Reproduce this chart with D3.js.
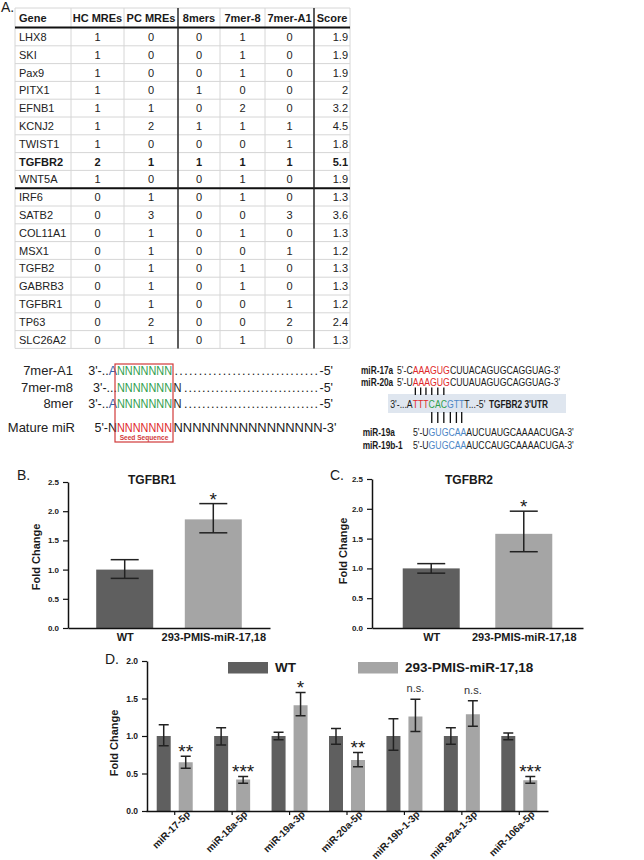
<!DOCTYPE html>
<html><head><meta charset="utf-8">
<script src="https://cdn.jsdelivr.net/npm/d3@7"></script>
<style>
body{margin:0;background:#fff}
svg{display:block}
text{font-family:"Liberation Sans",Arial,Helvetica,sans-serif}
</style>
</head><body>
<svg id="c" width="644" height="860"></svg>
<script>
// ---------------- DATA ----------------
// Panel A table
const tableHeaders = ["Gene","HC MREs","PC MREs","8mers","7mer-8","7mer-A1","Score"];
const genes   = ["LHX8","SKI","Pax9","PITX1","EFNB1","KCNJ2","TWIST1","TGFBR2","WNT5A","IRF6","SATB2","COL11A1","MSX1","TGFB2","GABRB3","TGFBR1","TP63","SLC26A2"];
const hcMREs  = [1,1,1,1,1,1,1,2,1,0,0,0,0,0,0,0,0,0];
const pcMREs  = [0,0,0,0,1,2,0,1,0,1,3,1,1,1,1,1,2,1];
const mers8   = [0,0,0,1,0,1,0,1,0,0,0,0,0,0,0,0,0,0];
const mer7m8  = [1,1,1,0,2,1,0,1,1,1,0,1,0,1,1,0,0,1];
const mer7A1  = [0,0,0,0,0,1,1,1,0,0,3,0,1,0,0,1,2,0];
const scores  = ["1.9","1.9","1.9","2","3.2","4.5","1.8","5.1","1.9","1.3","3.6","1.3","1.2","1.3","1.3","1.2","2.4","1.3"];
const boldGene = "TGFBR2";
const groupBreakAfter = "WNT5A";

// Panels B and C
const barCategories = ["WT","293-PMIS-miR-17,18"];
const tgfbr1Mean = [1.00, 1.86];
const tgfbr1Low  = [0.85, 1.63];
const tgfbr1High = [1.17, 2.13];
const tgfbr1Sig  = ["", "*"];
const tgfbr2Mean = [1.00, 1.58];
const tgfbr2Low  = [0.92, 1.28];
const tgfbr2High = [1.08, 1.96];
const tgfbr2Sig  = ["", "*"];
const bcTicks = [0, 0.5, 1.0, 1.5, 2.0, 2.5];

// Panel D
const mirnas = ["miR-17-5p","miR-18a-5p","miR-19a-3p","miR-20a-5p","miR-19b-1-3p","miR-92a-1-3p","miR-106a-5p"];
const seriesNames = ["WT","293-PMIS-miR-17,18"];
const wtMean   = [1.00,1.00,1.00,1.00,1.00,1.00,1.00];
const wtLow    = [0.87,0.88,0.95,0.89,0.81,0.89,0.95];
const wtHigh   = [1.15,1.11,1.05,1.10,1.23,1.11,1.04];
const pmisMean = [0.65,0.42,1.41,0.68,1.26,1.29,0.41];
const pmisLow  = [0.57,0.37,1.27,0.59,1.06,1.13,0.37];
const pmisHigh = [0.73,0.46,1.58,0.78,1.49,1.47,0.46];
const pmisSig  = ["**","***","*","**","n.s.","n.s.","***"];
const dTicks = [0, 0.5, 1.0, 1.5, 2.0];

// ---------------- STYLE ----------------
const seriesColors = ["#5f5f5f", "#a5a5a5"];
const RED = "#e0282a", GREEN = "#2f9e4c", BLUE = "#3463ad", LBLUE = "#4d86c6", INK = "#1a1a1a";

const svg = d3.select("#c");

// ---------------- PANEL A: TABLE ----------------
svg.append("text").attr("x",1).attr("y",12).style("font-size","14px").attr("fill",INK).text("A.");

const colEdges = [15, 71, 124, 178, 220, 265, 314, 350];
const columns = [genes, hcMREs, pcMREs, mers8, mer7m8, mer7A1, scores];
const headTop = 8, headBot = 27.5;
const tY = d3.scaleBand().domain(genes).range([28, 348.4]);
const tBot = tY.range()[1];
const tg = svg.append("g");
const grid = "#d6d6d6";
const tFs = "11px";
tg.append("line").attr("x1",colEdges[0]).attr("x2",colEdges[7]).attr("y1",headTop).attr("y2",headTop).attr("stroke",grid);
genes.forEach(g=>{
  const yb = tY(g)+tY.bandwidth();
  tg.append("line").attr("x1",colEdges[0]).attr("x2",colEdges[7]).attr("y1",yb).attr("y2",yb).attr("stroke",grid);
});
colEdges.forEach(x=>{
  tg.append("line").attr("x1",x).attr("x2",x).attr("y1",headTop).attr("y2",tBot).attr("stroke",grid);
});
tg.append("line").attr("x1",colEdges[0]).attr("x2",colEdges[7]).attr("y1",headBot).attr("y2",headBot).attr("stroke","#111").attr("stroke-width",2);
const yBreak = tY(groupBreakAfter)+tY.bandwidth();
tg.append("line").attr("x1",colEdges[0]).attr("x2",colEdges[7]).attr("y1",yBreak).attr("y2",yBreak).attr("stroke","#111").attr("stroke-width",2);
[colEdges[3], colEdges[6]].forEach(x=>{
  tg.append("line").attr("x1",x).attr("x2",x).attr("y1",headTop).attr("y2",tBot).attr("stroke","#222").attr("stroke-width",1.4);
});
tableHeaders.forEach((h,ci)=>{
  const t = tg.append("text").attr("y",22).style("font-size",tFs).style("font-weight","bold").attr("fill",INK).text(h);
  if(ci===0) t.attr("x",colEdges[0]+4);
  else t.attr("x",(colEdges[ci]+colEdges[ci+1])/2).attr("text-anchor","middle");
});
genes.forEach((g,ri)=>{
  const yc = tY(g)+tY.bandwidth()/2+4;
  columns.forEach((col,ci)=>{
    const t = tg.append("text").attr("y",yc).style("font-size",tFs).attr("fill","#222").text(col[ri]);
    if(g===boldGene) t.style("font-weight","bold").attr("fill",INK);
    if(ci===0) t.attr("x",colEdges[0]+4);
    else if(ci===6) t.attr("x",colEdges[7]-2).attr("text-anchor","end");
    else t.attr("x",(colEdges[ci]+colEdges[ci+1])/2).attr("text-anchor","middle");
  });
});

// ---------------- SEQUENCE DIAGRAMS ----------------
function segs(parent, x, y, list, size, weight, gapPx){
  let cx = x; const parts=[]; const gp = gapPx||0;
  list.forEach((s,i)=>{
    if(i>0) cx += gp;
    const t = parent.append("text").attr("x",cx).attr("y",y).attr("fill",s.c||INK)
      .style("font-size",size+"px").style("font-weight",weight||"normal").text(s.t);
    if(s.len){ t.attr("textLength",s.len).attr("lengthAdjust",s.adj||"spacingAndGlyphs"); }
    const w = s.len || t.node().getComputedTextLength();
    parts.push({node:t.node(), x:cx, w});
    cx += w;
  });
  return {end:cx, parts};
}
const sg = svg.append("g");
const seedX = 117, seedW = 55, seqFs = 12.5;
const leftRows = [
  {label:"7mer-A1", y:375, pre:[["3'-..",INK],["A",BLUE]], seedC:GREEN, post:"", tail:"-5'", end:333},
  {label:"7mer-m8", y:392, pre:[["3'-...",INK]], seedC:GREEN, post:"N", tail:"-5'", end:333},
  {label:"8mer",    y:408, pre:[["3'-..",INK],["A",BLUE]], seedC:GREEN, post:"N", tail:"-5'", end:333},
];
leftRows.forEach(r=>{
  sg.append("text").attr("x",73).attr("y",r.y).attr("text-anchor","end").style("font-size","13px").attr("fill","#222").text(r.label);
  const pre = sg.append("text").attr("x",seedX).attr("y",r.y).attr("text-anchor","end").style("font-size",seqFs+"px");
  r.pre.forEach(p=>pre.append("tspan").attr("fill",p[1]).text(p[0]));
  const s = segs(sg, seedX, r.y, [{t:"NNNNNNN", c:r.seedC, len:seedW}].concat(r.post?[{t:r.post,c:INK,len:8}]:[]), seqFs, "normal", 1.5);
  const tailT = sg.append("text").attr("x",r.end).attr("y",r.y).attr("text-anchor","end").style("font-size",seqFs+"px").attr("fill",INK).text(r.tail);
  const tw = tailT.node().getComputedTextLength();
  const gap = r.end - tw - s.end - 4;
  sg.append("text").attr("x",s.end+2.5).attr("y",r.y).style("font-size",seqFs+"px").attr("fill",INK)
    .attr("textLength",gap).attr("lengthAdjust","spacing").text(".".repeat(30));
});
sg.append("text").attr("x",75).attr("y",432).attr("text-anchor","end").style("font-size","13px").attr("fill","#222").text("Mature miR");
sg.append("text").attr("x",seedX).attr("y",432).attr("text-anchor","end").style("font-size",seqFs+"px").attr("fill",INK).text("5'-N");
segs(sg, seedX, 432, [{t:"NNNNNNN",c:RED,len:seedW},{t:"NNNNNNNNNNNNNNNN-3'",c:INK,len:163}], seqFs, "normal", 1.5);
sg.append("rect").attr("x",seedX-2).attr("y",364).attr("width",seedW+3).attr("height",78).attr("fill","none").attr("stroke","#d13a3a").attr("stroke-width",1.2);
sg.append("text").attr("x",seedX+seedW/2-0.5).attr("y",440).attr("text-anchor","middle").style("font-size","6.6px").style("font-weight","bold").attr("fill","#d13a3a").text("Seed Sequence");

// right side (drawn at natural size, then condensed horizontally)
const ox = 360, sx = 0.83;
const rs = svg.append("g").attr("transform",`translate(${ox},0) scale(${sx},1) translate(${-ox},0)`);
const L = v => ox + (v-ox)/sx;   // real x -> local x
const labX = L(361), seqX = L(397), rFs = 10.5, labFs = "10px";
rs.append("rect").attr("x",L(388)).attr("y",394).attr("width",(566-388)/sx).attr("height",19).attr("fill","#dfe6ef");
rs.append("text").attr("x",labX).attr("y",374).style("font-size",labFs).style("font-weight","bold").attr("fill",INK).text("miR-17a");
const r17 = segs(rs, seqX, 374, [{t:"5'-C"},{t:"AAAGUG",c:RED},{t:"CUUACAGUGCAGGUAG-3'"}], rFs);
rs.append("text").attr("x",labX).attr("y",386).style("font-size",labFs).style("font-weight","bold").attr("fill",INK).text("miR-20a");
segs(rs, seqX, 386, [{t:"5'-U"},{t:"AAAGUG",c:RED},{t:"CUUAUAGUGCAGGUAG-3'"}], rFs);
const redStart = r17.parts[1].x;
rs.append("text").attr("x",redStart).attr("y",408.5).attr("text-anchor","end").style("font-size",rFs+"px").attr("fill",INK).text("3'-...A");
const utr = segs(rs, redStart, 408.5, [{t:"TTT",c:RED},{t:"CAC",c:GREEN},{t:"GTT",c:LBLUE},{t:"T...-5'"}], rFs);
rs.append("text").attr("x",L(489)).attr("y",408).style("font-size","10px").style("font-weight","bold").attr("fill",INK).text("TGFBR2 3'UTR");
function charCenters(node,n){ const a=[]; for(let i=0;i<n;i++){a.push((node.getStartPositionOfChar(i).x+node.getEndPositionOfChar(i).x)/2);} return a; }
const upperX = charCenters(utr.parts[0].node,3).concat(charCenters(utr.parts[1].node,3));
upperX.forEach(x=>rs.append("line").attr("x1",x).attr("x2",x).attr("y1",387.5).attr("y2",395).attr("stroke","#111").attr("stroke-width",1.6));
const lowerX = charCenters(utr.parts[1].node,3).concat(charCenters(utr.parts[2].node,3));
lowerX.forEach(x=>rs.append("line").attr("x1",x).attr("x2",x).attr("y1",412).attr("y2",423).attr("stroke","#111").attr("stroke-width",1.6));
const greenStart = utr.parts[1].x;
function seq19(label, y, rest){
  rs.append("text").attr("x",labX+2).attr("y",y).style("font-size",labFs).style("font-weight","bold").attr("fill",INK).text(label);
  rs.append("text").attr("x",greenStart).attr("y",y).attr("text-anchor","end").style("font-size",rFs+"px").attr("fill",INK).text("5'-U");
  segs(rs, greenStart, y, [{t:"GUGCAA",c:LBLUE},{t:rest}], rFs);
}
seq19("miR-19a", 436, "AUCUAUGCAAAACUGA-3'");
seq19("miR-19b-1", 449, "AUCCAUGCAAAACUGA-3'");

// ---------------- PANELS B & C ----------------
function simpleBar(cfg){
  const g = svg.append("g");
  const y = d3.scaleLinear().domain([0,2.5]).range([cfg.y0, cfg.y1]);
  const x = d3.scalePoint().domain(barCategories).range([cfg.ax, cfg.axEnd]).padding(0.64);
  const bw = 57;
  g.append("text").attr("x",cfg.px).attr("y",480).style("font-size","14px").attr("fill",INK).text(cfg.panel);
  g.append("text").attr("x",cfg.titleX).attr("y",484).attr("text-anchor","middle").style("font-size","12px").style("font-weight","bold").attr("fill",INK).text(cfg.title);
  barCategories.forEach((c,i)=>{
    g.append("rect").attr("x",x(c)-bw/2).attr("width",bw).attr("y",y(cfg.mean[i])).attr("height",y(0)-y(cfg.mean[i])).attr("fill",seriesColors[i]);
    const cx = x(c), cw = 14;
    g.append("line").attr("x1",cx).attr("x2",cx).attr("y1",y(cfg.low[i])).attr("y2",y(cfg.high[i])).attr("stroke","#222").attr("stroke-width",1.5);
    [cfg.low[i],cfg.high[i]].forEach(v=>g.append("line").attr("x1",cx-cw).attr("x2",cx+cw).attr("y1",y(v)).attr("y2",y(v)).attr("stroke","#222").attr("stroke-width",1.5));
    if(cfg.sig[i]) g.append("text").attr("x",cx).attr("y",y(cfg.high[i])+2).attr("text-anchor","middle").style("font-size","19px").attr("fill",INK).text(cfg.sig[i]);
  });
  const ya = g.append("g").attr("transform",`translate(${cfg.ax},0)`).call(d3.axisLeft(y).tickValues(bcTicks).tickFormat(d3.format(".1f")).tickSize(5).tickPadding(4).tickSizeOuter(0));
  const xa = g.append("g").attr("transform",`translate(0,${cfg.y0})`).call(d3.axisBottom(x).tickSize(0).tickSizeOuter(0).tickPadding(5));
  [ya,xa].forEach(a=>{a.select(".domain").attr("stroke","#111").attr("stroke-width",1.5); a.selectAll(".tick line").attr("stroke","#111").attr("stroke-width",1.2);});
  ya.selectAll("text").style("font-size","8px").style("font-weight","bold").attr("fill",INK).style("font-family","Liberation Sans, Arial, sans-serif");
  xa.selectAll("text").style("font-size","11px").style("font-weight","bold").attr("fill",INK).style("font-family","Liberation Sans, Arial, sans-serif");
  g.append("text").attr("transform",`translate(${cfg.flX},${cfg.flY}) rotate(-90)`).attr("text-anchor","middle").style("font-size","11px").style("font-weight","bold").attr("fill",INK).text("Fold Change");
}
simpleBar({panel:"B.", px:17, title:"TGFBR1", titleX:152, ax:68, axEnd:270, y0:628, y1:482, mean:tgfbr1Mean, low:tgfbr1Low, high:tgfbr1High, sig:tgfbr1Sig, flX:40, flY:557});
simpleBar({panel:"C.", px:330, title:"TGFBR2", titleX:469, ax:372, axEnd:583, y0:628, y1:479, mean:tgfbr2Mean, low:tgfbr2Low, high:tgfbr2High, sig:tgfbr2Sig, flX:347, flY:551});

// ---------------- PANEL D ----------------
const dg = svg.append("g");
dg.append("text").attr("x",105).attr("y",664).style("font-size","14px").attr("fill",INK).text("D.");
const dY = d3.scaleLinear().domain([0,2]).range([811,661]);
const dX0 = d3.scaleBand().domain(mirnas).range([146,548]);
const half = dX0.bandwidth()/2;
const dX1 = d3.scaleBand().domain(seriesNames).range([half-18, half+18]).paddingInner(0.364);
const seriesData = [
  {mean:wtMean, low:wtLow, high:wtHigh, sig:null},
  {mean:pmisMean, low:pmisLow, high:pmisHigh, sig:pmisSig}
];
mirnas.forEach((m,i)=>{
  seriesNames.forEach((s,si)=>{
    const d = seriesData[si];
    const x = dX0(m)+dX1(s), w = dX1.bandwidth(), cx = x+w/2;
    dg.append("rect").attr("x",x).attr("width",w).attr("y",dY(d.mean[i])).attr("height",dY(0)-dY(d.mean[i])).attr("fill",seriesColors[si]);
    dg.append("line").attr("x1",cx).attr("x2",cx).attr("y1",dY(d.low[i])).attr("y2",dY(d.high[i])).attr("stroke","#222").attr("stroke-width",1.5);
    [d.low[i],d.high[i]].forEach(v=>dg.append("line").attr("x1",cx-5).attr("x2",cx+5).attr("y1",dY(v)).attr("y2",dY(v)).attr("stroke","#222").attr("stroke-width",1.5));
    if(d.sig){
      const lab = d.sig[i];
      if(lab==="n.s.") dg.append("text").attr("x",cx).attr("y",dY(d.high[i])-7).attr("text-anchor","middle").style("font-size","11px").attr("fill","#333").text(lab);
      else dg.append("text").attr("x",cx).attr("y",dY(d.high[i])+1.5).attr("text-anchor","middle").style("font-size","19px").attr("fill",INK).text(lab);
    }
  });
});
const dya = dg.append("g").attr("transform","translate(147,0)").call(d3.axisLeft(dY).tickValues(dTicks).tickFormat(d3.format(".1f")).tickSize(5).tickPadding(4).tickSizeOuter(0));
const dxa = dg.append("g").attr("transform","translate(0,811)").call(d3.axisBottom(dX0).tickSize(4).tickSizeOuter(0).tickFormat(""));
[dya,dxa].forEach(a=>{a.select(".domain").attr("stroke","#111").attr("stroke-width",1.5); a.selectAll(".tick line").attr("stroke","#111").attr("stroke-width",1.2);});
dya.selectAll("text").style("font-size","8.5px").style("font-weight","bold").attr("fill",INK).style("font-family","Liberation Sans, Arial, sans-serif");
mirnas.forEach(m=>{
  const tx = dX0(m)+half;
  dg.append("text").attr("transform",`translate(${tx+16},815) rotate(-45)`).attr("text-anchor","end").style("font-size","10px").style("font-weight","bold").attr("fill",INK).text(m);
});
dg.append("text").attr("transform","translate(118,743) rotate(-90)").attr("text-anchor","middle").style("font-size","11px").style("font-weight","bold").attr("fill",INK).text("Fold Change");
const legX = [228, 358];
seriesNames.forEach((s,i)=>{
  dg.append("rect").attr("x",legX[i]).attr("y",662).attr("width",40).attr("height",11.5).attr("fill",seriesColors[i]);
  dg.append("text").attr("x",legX[i]+47).attr("y",672).style("font-size","13.5px").style("font-weight","bold").attr("fill",INK).text(s);
});
</script>
</body></html>
